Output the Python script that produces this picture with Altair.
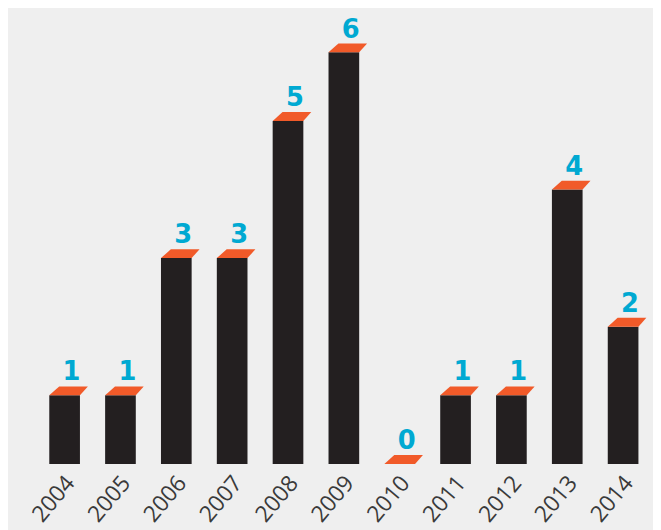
import altair as alt
import pandas as pd

years = ["2004", "2005", "2006", "2007", "2008", "2009", "2010", "2011", "2012", "2013", "2014"]
values = [1, 1, 3, 3, 5, 6, 0, 1, 1, 4, 2]

df = pd.DataFrame({"year": years, "value": values})

BAR = "#231f20"
CAP = "#f15a29"
LBL = "#00a9d2"
BG = "#efefef"

cap_path = "M -0.775 0 L 0.775 0 L 1.175 -0.45 L -0.275 -0.45 Z"

x = alt.X(
    "year:N",
    sort=years,
    title=None,
    scale=alt.Scale(paddingInner=0.45, paddingOuter=0.225),
    axis=alt.Axis(
        domain=False,
        ticks=False,
        grid=False,
        labelAngle=-50,
        labelAlign="right",
        labelBaseline="middle",
        labelPadding=15,
        labelOffset=6,
        labelFont="Open Sans",
        labelFontWeight=400,
        labelFontSize=23,
        labelColor="#3a3a3a",
    ),
)
y = alt.Y("value:Q", scale=alt.Scale(domain=[0, 6], nice=False), axis=None)

base = alt.Chart(df).encode(x=x, y=y)

bars = base.mark_bar(color=BAR, size=31)
caps = base.mark_point(shape=cap_path, size=1600, filled=True, color=CAP, opacity=1, strokeWidth=0)
labels = base.mark_text(
    font="DejaVu Sans", fontWeight="bold", fontSize=26, color=LBL,
    baseline="alphabetic", dy=-15, dx=7,
).encode(text="value:Q")

chart = (
    alt.layer(bars, caps, labels)
    .properties(
        width=621,
        height=416,
        background=BG,
        autosize=alt.AutoSizeParams(type="none"),
        padding={"left": 29, "top": 42, "right": 2, "bottom": 64},
    )
    .configure_view(stroke=None)
)

chart.save("out.html", embed_options={"renderer": "svg", "actions": False})
